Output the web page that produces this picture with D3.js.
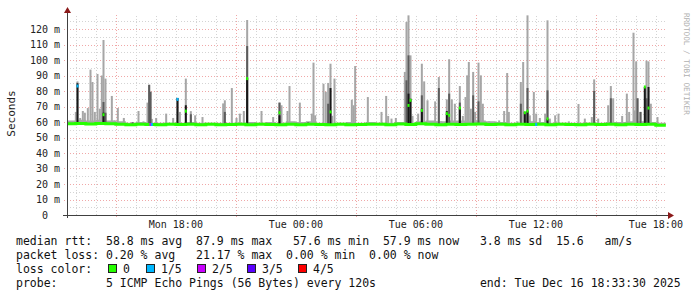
<!DOCTYPE html>
<html>
<head>
<meta charset="utf-8">
<script src="https://cdn.jsdelivr.net/npm/d3@7"></script>
<style>
  body { margin: 0; background: #fff; }
  text { font-family: "DejaVu Sans Mono", monospace; white-space: pre; }
</style>
</head>
<body>
<svg id="chart" width="697" height="297"></svg>
<script>

// time window of the graph
var startTime = "Mon 12:33:30", endTime = "Tue 18:33:30";

// smoke spikes: time, max ping, dark band top, black band top, median (0 = none), loss index
var spikeTime = ["Mon 12:42","Mon 13:00","Mon 13:05","Mon 13:13","Mon 13:21","Mon 13:27","Mon 13:36","Mon 13:44","Mon 13:50","Mon 13:57",
  "Mon 14:05","Mon 14:12","Mon 14:18","Mon 14:23","Mon 14:29","Mon 14:48","Mon 14:56","Mon 15:06","Mon 15:24","Mon 15:50",
  "Mon 16:08","Mon 16:23","Mon 16:35","Mon 16:40","Mon 16:44","Mon 16:48","Mon 17:01","Mon 17:31","Mon 17:52","Mon 18:05",
  "Mon 18:12","Mon 18:30","Mon 18:45","Mon 18:58","Mon 19:20","Mon 20:22","Mon 20:27","Mon 20:48","Mon 21:02","Mon 21:12",
  "Mon 21:24","Mon 21:34","Mon 22:17","Mon 22:52","Mon 23:11","Mon 23:17","Mon 23:35","Mon 23:41","Tue 00:12","Tue 00:37",
  "Tue 00:48","Tue 00:53","Tue 00:58","Tue 01:23","Tue 01:30","Tue 01:37","Tue 01:44","Tue 01:49","Tue 01:56","Tue 02:12",
  "Tue 02:48","Tue 02:53","Tue 02:58","Tue 03:36","Tue 04:17","Tue 04:31","Tue 04:37","Tue 04:47","Tue 05:00","Tue 05:27",
  "Tue 05:32","Tue 05:38","Tue 05:44","Tue 05:50","Tue 06:07","Tue 06:18","Tue 06:25","Tue 06:35","Tue 06:58","Tue 07:09",
  "Tue 07:16","Tue 07:33","Tue 07:40","Tue 07:48","Tue 07:57","Tue 08:12","Tue 08:21","Tue 08:29","Tue 08:34","Tue 08:39",
  "Tue 08:45","Tue 08:52","Tue 08:58","Tue 09:08","Tue 09:15","Tue 09:21","Tue 09:40","Tue 10:10","Tue 10:25","Tue 10:34",
  "Tue 10:39","Tue 11:05","Tue 11:15","Tue 11:22","Tue 11:27","Tue 11:35","Tue 11:42","Tue 11:54","Tue 12:01","Tue 12:12",
  "Tue 12:28","Tue 12:35","Tue 12:42","Tue 12:58","Tue 13:08","Tue 13:39","Tue 14:08","Tue 14:27","Tue 14:48","Tue 14:55",
  "Tue 15:07","Tue 15:37","Tue 15:45","Tue 15:52","Tue 16:19","Tue 16:33","Tue 16:40","Tue 16:53","Tue 16:57","Tue 17:01",
  "Tue 17:05","Tue 17:14","Tue 17:27","Tue 17:32","Tue 17:38","Tue 17:45","Tue 18:05"];
var spikeMax = [60.4,66.5,86.2,62.6,67.1,66,69,93.8,85.8,66.5,
  91,68.6,90,112.9,88,76.8,61,69,62.6,59.8,
  67.1,60.4,72.5,84,79.5,62,62.6,65.4,62.6,75.5,
  66.5,88,67,64.3,63.2,72,74,81.9,62.6,65.4,
  67.1,125.8,67.1,63.2,72.5,70.8,67.1,83.2,72.5,59.8,
  65.4,98.3,64.3,84.7,79.5,85.2,97.6,64,88,59.4,
  74.4,70.8,96.1,76.1,66.5,76.8,63.9,62.2,62.6,92.3,
  124.5,128.8,103,64,65.4,97.6,86.2,74,73.3,89,
  60.4,74.6,100.5,74.6,71.8,83.2,63.9,76.1,90.1,98.7,
  68.6,92.3,66.5,98.3,90.1,71.8,60.4,61,67.1,91.6,
  66.5,60.4,85.8,98.7,65.4,128.8,64.3,79.4,65.4,62.6,
  65.4,125.6,62.2,64.3,65.4,60.4,71.6,62.2,63.2,87.5,
  62.2,70.8,83.2,75.3,63.9,78.3,66.5,117.6,67.5,99.1,
  75.3,66.5,82.6,99.6,99.1,71.8,63.2];
var spikeMid = [0,0,0,0,0,0,0,0,0,0,
  0,0,0,72.9,66,0,0,0,0,59.8,
  0,0,0,84,79.5,0,0,0,0,0,
  0,0,65,0,0,0,66.5,0,0,0,
  0,109,0,0,72.5,0,0,0,0,59.8,
  0,0,0,0,0,71.8,0,0,0,59.4,
  0,0,0,0,0,0,0,0,0,0,
  86.9,103,0,0,0,77.2,0,0,0,81.9,
  0,0,78.3,0,0,72.5,0,0,0,0,
  0,77.2,0,73.3,0,0,0,0,0,0,
  0,0,71.8,0,0,81.9,0,0,0,0,
  0,80.4,0,0,0,0,0,0,0,80,
  0,0,75.3,0,0,0,0,0,0,0,
  75.3,66.5,0,75.3,0,0,0];
var spikeBlack = [0,0,85,0,0,0,0,0,0,0,
  0,0,0,66,0,0,0,0,0,0,
  0,0,0,0,0,0,0,0,0,75.5,
  0,70.8,0,0,0,0,0,0,0,0,
  0,88.4,0,0,64.3,0,0,0,0,0,
  0,0,0,0,0,0,81.9,0,0,0,
  0,0,0,0,0,0,0,0,0,0,
  0,78.3,75,0,0,68.6,0,0,0,0,
  0,67,0,0,0,69.3,0,0,0,0,
  0,0,0,0,0,0,0,0,0,0,
  0,0,0,0,66.5,67,0,0,0,0,
  0,62,0,0,0,0,0,0,0,0,
  0,0,0,0,0,0,0,0,0,0,
  0,0,82.6,0,82.6,0,0];
var spikeMedian = [0,0,83.2,0,0,0,0,0,0,0,
  0,0,0,64.7,0,0,0,0,0,0,
  0,0,0,0,0,0,0,0,0,74.6,
  0,67,0,0,0,0,0,0,0,0,
  0,88,0,0,66,0,0,0,0,0,
  0,0,0,0,0,0,66.5,0,0,0,
  0,0,0,0,0,0,0,0,0,0,
  0,70.7,74,0,0,67.5,0,0,0,0,
  0,65.4,64.3,0,0,69,0,0,0,0,
  0,0,0,0,0,0,0,0,0,0,
  0,0,0,0,66,67,0,0,0,0,
  0,62,0,0,0,0,0,0,0,0,
  0,0,0,0,0,0,0,0,0,0,
  0,0,82.6,0,69,0,0];
var spikeLoss = [0,0,1,0,0,0,0,0,0,0,
  0,0,0,0,0,0,0,0,0,0,
  0,0,0,0,2,1,0,0,0,1,
  0,0,0,0,0,0,0,0,0,0,
  0,0,0,0,0,0,0,0,0,0,
  0,0,0,0,0,0,0,0,0,0,
  0,0,0,0,0,0,0,0,0,0,
  0,0,0,0,0,0,0,0,0,0,
  0,0,0,0,0,0,0,0,0,0,
  0,0,0,0,0,0,0,0,0,0,
  0,0,0,0,0,0,0,0,1,0,
  0,0,0,0,0,0,0,0,0,0,
  0,0,0,0,0,0,0,0,0,0,
  0,0,0,0,0,0,0];

// median rtt between the spikes, every half hour from Mon 12:30
var medianStart = "Mon 12:30";
var medianValues = [58.9,59.0,58.7,59.1,58.8,58.5,58.3,58.6,58.4,58.2,
  58.5,58.4,58.6,58.3,58.5,58.2,58.4,58.6,58.3,58.5,
  58.4,58.2,58.5,58.3,58.6,58.4,58.2,58.5,58.3,58.4,
  58.6,58.5,58.3,58.7,58.4,58.8,58.5,58.3,58.6,58.4,
  58.5,58.7,58.4,58.6,58.3,58.5,58.4,58.6,58.2,58.5,
  58.4,58.3,58.6,58.4,58.5,58.3,58.6,58.4,58.5,57.9,57.9];
// low smoke hugging the median, same half hour steps
var smokeFloor = [61,61.5,61,61.5,61,60.5,59.5,60,59.5,59.5,
  59.5,59.5,60,59.5,59.5,59.5,59.5,59.5,60,59.5,
  60,59.5,60.5,60,60.5,59.5,59.5,59.5,60,59.5,
  60,59.5,59.5,60,59.5,60.5,61,60.5,61,61,
  60.5,61,60.5,60,59.5,59.5,60.5,60,59.5,59.5,
  59.5,59.5,59.5,59.5,60,60,60.5,60.5,60,59.5,59.5];

var yTicks = [0, 10, 20, 30, 40, 50, 60, 70, 80, 90, 100, 110, 120];
var lossLabels = ["0", "1/5", "2/5", "3/5", "4/5"];
var lossColors = ["#26ff00", "#00b8ff", "#c800ff", "#5a00ff", "#ff0000"];

var legendLines = [
  "median rtt:  58.8 ms avg  87.9 ms max   57.6 ms min  57.9 ms now   3.8 ms sd  15.6   am/s",
  "packet loss: 0.20 % avg   21.17 % max  0.00 % min  0.00 % now",
  "loss color:",
  "probe:       5 ICMP Echo Pings (56 Bytes) every 120s               end: Tue Dec 16 18:33:30 2025"
];

function parseT(s) {
  var parts = s.split(" ");
  var hms = parts[1].split(":").map(Number);
  return new Date(2025, 11, parts[0] == "Mon" ? 15 : 16, hms[0], hms[1], hms[2] || 0);
}

function drawChart() {
  var svg = d3.select("#chart");
  var plotLeft = 67, plotRight = 667, plotTop = 13.5, plotBottom = 215;

  var x = d3.scaleTime()
    .domain([parseT(startTime), parseT(endTime)])
    .range([plotLeft, plotRight]);
  var y = d3.scaleLinear()
    .domain([0, 130])
    .range([plotBottom, plotTop]);

  // grid: grey dotted minor lines, pink dotted major lines
  var minorColor = "#d4d4d4", majorColor = "#f0a8a8";
  var grid = svg.append("g").attr("shape-rendering", "crispEdges");
  var minorY = d3.range(5, 130, 10);
  grid.selectAll(".hmin").data(minorY).enter().append("line")
    .attr("x1", plotLeft).attr("x2", plotRight)
    .attr("y1", d => Math.round(y(d)) + 0.5).attr("y2", d => Math.round(y(d)) + 0.5)
    .attr("stroke", minorColor).attr("stroke-dasharray", "1,2");

  var hours = d3.timeHour.range(x.domain()[0], x.domain()[1]);
  grid.selectAll(".vgrid").data(hours).enter().append("line")
    .attr("x1", d => Math.round(x(d)) + 0.5).attr("x2", d => Math.round(x(d)) + 0.5)
    .attr("y1", d => d.getHours() % 6 == 3 ? plotBottom + 2 : plotBottom).attr("y2", plotTop)
    .attr("stroke", d => d.getHours() % 6 == 3 ? majorColor : minorColor)
    .attr("stroke-dasharray", "1,2");

  grid.selectAll(".hmaj").data(yTicks.slice(1)).enter().append("line")
    .attr("x1", plotLeft - 3).attr("x2", plotRight)
    .attr("y1", d => Math.round(y(d)) + 0.5).attr("y2", d => Math.round(y(d)) + 0.5)
    .attr("stroke", majorColor).attr("stroke-dasharray", "1,2");

  // data
  svg.append("clipPath").attr("id", "clip").append("rect")
    .attr("x", plotLeft).attr("y", plotTop).attr("width", plotRight - plotLeft).attr("height", plotBottom - plotTop);
  var plot = svg.append("g").attr("clip-path", "url(#clip)");

  var halfHour = 30 * 60 * 1000;
  var medianTimes = medianValues.map((v, i) => new Date(parseT(medianStart).getTime() + i * halfHour));

  var floorArea = d3.area()
    .x((d, i) => x(medianTimes[i]))
    .y0((d, i) => y(medianValues[i]))
    .y1(d => y(d))
    .curve(d3.curveStepAfter);
  plot.append("path").datum(smokeFloor)
    .attr("d", floorArea)
    .attr("fill", "#a8a8a8");

  var spikes = spikeTime.map((t, i) => ({
    t: parseT(t), max: spikeMax[i], mid: spikeMid[i], blk: spikeBlack[i], med: spikeMedian[i], loss: spikeLoss[i]
  }));
  var halfStep = 3 * 60 * 1000;
  var base = 58.4;
  var x0 = d => x(new Date(d.t.getTime() - halfStep));
  var x1 = d => x(new Date(d.t.getTime() + halfStep));

  function bar(layer, key, color) {
    plot.selectAll("rect." + layer).data(spikes.filter(d => d[key] > 0)).enter().append("rect")
      .attr("class", layer)
      .attr("x", x0)
      .attr("width", d => x1(d) - x0(d))
      .attr("y", d => y(d[key]))
      .attr("height", d => y(base) - y(d[key]))
      .attr("fill", color);
  }
  bar("smoke", "max", "#a6a6a6");
  bar("dark", "mid", "#5c5c5c");
  bar("black", "blk", "#181818");

  var medLine = d3.line()
    .x((d, i) => x(medianTimes[i]))
    .y(d => y(d))
    .curve(d3.curveStepAfter);
  plot.append("path").datum(medianValues)
    .attr("d", medLine)
    .attr("fill", "none")
    .attr("stroke", lossColors[0])
    .attr("stroke-width", 3);

  // median dots and loss colours at the spikes
  plot.selectAll("rect.med").data(spikes.filter(d => d.med > 0 || d.loss > 0)).enter().append("rect")
    .attr("class", "med")
    .attr("x", x0)
    .attr("width", d => x1(d) - x0(d))
    .attr("y", d => y(d.med > 0 ? d.med : base) - 1.5)
    .attr("height", 3)
    .attr("fill", d => lossColors[d.loss]);

  // axes
  var axisColor = "#404040", arrowColor = "#8b1a1a";
  svg.append("line").attr("x1", plotLeft - 4).attr("x2", plotRight + 2)
    .attr("y1", plotBottom + 0.5).attr("y2", plotBottom + 0.5).attr("stroke", axisColor);
  svg.append("line").attr("x1", plotLeft + 0.5).attr("x2", plotLeft + 0.5)
    .attr("y1", plotBottom + 3).attr("y2", 10).attr("stroke", axisColor);
  svg.append("path").attr("d", "M64,13L71,13L67.5,7Z").attr("fill", arrowColor);
  svg.append("path").attr("d", "M668,212L668,219L674,215.5Z").attr("fill", arrowColor);

  // tick labels
  svg.selectAll(".ylab").data(yTicks).enter().append("text")
    .attr("x", 60).attr("y", d => y(d) + 3.5)
    .attr("text-anchor", "end")
    .attr("font-size", "10px").attr("fill", "#222")
    .text(d => d == 0 ? "0  " : d + " m");

  var xLabels = d3.timeHour.every(6).range(x.domain()[0], x.domain()[1]);
  svg.selectAll(".xlab").data(xLabels).enter().append("text")
    .attr("x", d => x(d)).attr("y", 228)
    .attr("text-anchor", "middle")
    .attr("font-size", "10px").attr("fill", "#222")
    .text(d3.timeFormat("%a %H:%M"));

  svg.append("text")
    .attr("transform", "translate(15,113.5) rotate(-90)")
    .attr("text-anchor", "middle")
    .attr("font-size", "11px").attr("fill", "#222")
    .text("Seconds");

  svg.append("text")
    .attr("transform", "translate(684,13) rotate(90)")
    .attr("font-size", "7.7px").attr("fill", "#b0b0b0")
    .text("RRDTOOL / TOBI OETIKER");

  // legend
  svg.selectAll(".leg").data(legendLines).enter().append("text")
    .attr("x", 16).attr("y", (d, i) => 245 + i * 14)
    .attr("font-size", "11.5px").attr("fill", "#111")
    .text(d => d);

  var swatchX = [108, 146, 197, 247, 298];
  var legItems = svg.selectAll(".lossleg").data(lossLabels).enter().append("g")
    .attr("transform", (d, i) => "translate(" + swatchX[i] + ",264)");
  legItems.append("rect")
    .attr("x", 0.5).attr("y", 0.5).attr("width", 8).attr("height", 8)
    .attr("fill", (d, i) => lossColors[i])
    .attr("stroke", "#222");
  legItems.append("text")
    .attr("x", 15).attr("y", 9)
    .attr("font-size", "11.5px").attr("fill", "#111")
    .text(d => d);
}

drawChart();

</script>
</body>
</html>
